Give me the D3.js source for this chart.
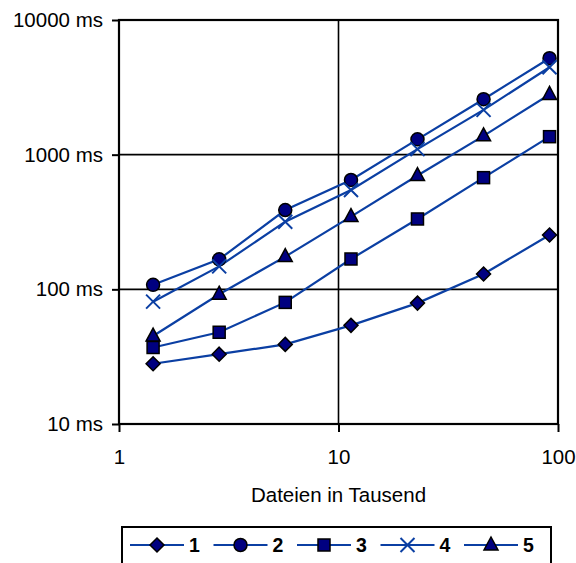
<!DOCTYPE html>
<html>
<head>
<meta charset="utf-8">
<script src="https://cdn.jsdelivr.net/npm/d3@7"></script>
<style>
  html, body { margin: 0; padding: 0; background: #fff; }
  svg { display: block; }
  text { font-family: "Liberation Sans", Arial, sans-serif; }
</style>
</head>
<body>
<svg id="chart" width="576" height="563"></svg>
<script>
// Number of files (thousands) at each measurement
const files = [1.43, 2.86, 5.72, 11.4, 22.9, 45.8, 91.5];

// Measured times in ms for each configuration
const series1 = [28, 33, 39, 54, 79, 130, 253];
const series2 = [108, 167, 388, 649, 1300, 2580, 5200];
const series3 = [37, 48, 80, 168, 333, 675, 1360];
const series4 = [81, 148, 318, 547, 1100, 2150, 4460];
const series5 = [45, 92, 175, 347, 700, 1380, 2800];

const seriesNames = ["1", "2", "3", "4", "5"];
const seriesMarkers = ["diamond", "circle", "square", "cross", "triangle"];

const xTicks = [1, 10, 100];
const yTicks = [10, 100, 1000, 10000];
const yTickLabels = ["10 ms", "100 ms", "1000 ms", "10000 ms"];
const xTitle = "Dateien in Tausend";

const allSeries = [series1, series2, series3, series4, series5].map((v, i) => ({
  name: seriesNames[i], marker: seriesMarkers[i], values: v
}));

const lineColor = "#0B3FA3";
const markerFill = "#000080";

const svg = d3.select("#chart");
const plot = { left: 119, right: 558, top: 20, bottom: 424 };

const x = d3.scaleLog().domain([1, 100]).range([plot.left, plot.right]);
const y = d3.scaleLog().domain([10, 10000]).range([plot.bottom, plot.top]);

// Gridlines at the decade marks
const grid = svg.append("g");
grid.selectAll("line.h").data(yTicks.slice(1, -1)).join("line")
  .attr("x1", plot.left).attr("x2", plot.right)
  .attr("y1", d => y(d)).attr("y2", d => y(d))
  .attr("stroke", "#000").attr("stroke-width", 1.6);
grid.selectAll("line.v").data(xTicks.slice(1, -1)).join("line")
  .attr("y1", plot.top).attr("y2", plot.bottom)
  .attr("x1", d => x(d)).attr("x2", d => x(d))
  .attr("stroke", "#000").attr("stroke-width", 1.6);

// Plot frame
svg.append("rect")
  .attr("x", plot.left).attr("y", plot.top)
  .attr("width", plot.right - plot.left).attr("height", plot.bottom - plot.top)
  .attr("fill", "none").attr("stroke", "#000").attr("stroke-width", 2.2);

// Axes
const yAxis = d3.axisLeft(y).tickValues(yTicks)
  .tickFormat((d, i) => yTickLabels[i]).tickSize(7).tickPadding(9);
const gy = svg.append("g").attr("transform", `translate(${plot.left},0)`).call(yAxis);
gy.select(".domain").remove();
gy.selectAll(".tick line").attr("stroke", "#000").attr("stroke-width", 2);
gy.selectAll(".tick text").attr("font-size", 20.5).attr("fill", "#000");

const xAxis = d3.axisBottom(x).tickValues(xTicks)
  .tickFormat(d3.format("d")).tickSize(8).tickPadding(17.5);
const gx = svg.append("g").attr("transform", `translate(0,${plot.bottom})`).call(xAxis);
gx.select(".domain").remove();
gx.selectAll(".tick line").attr("stroke", "#000").attr("stroke-width", 2);
gx.selectAll(".tick text").attr("font-size", 20.5).attr("fill", "#000");

svg.append("text")
  .attr("x", x(10)).attr("y", 501.5)
  .attr("text-anchor", "middle").attr("font-size", 20.5).attr("fill", "#000")
  .text(xTitle);

// Marker drawing
function drawMarker(g, type) {
  switch (type) {
    case "diamond":
      g.append("path").attr("d", "M0,-7L7,0L0,7L-7,0Z")
        .attr("fill", markerFill).attr("stroke", "#000").attr("stroke-width", 1.5);
      break;
    case "circle":
      g.append("circle").attr("r", 6.5)
        .attr("fill", markerFill).attr("stroke", "#000").attr("stroke-width", 1.5);
      break;
    case "square":
      g.append("rect").attr("x", -6).attr("y", -6).attr("width", 12).attr("height", 12)
        .attr("fill", markerFill).attr("stroke", "#000").attr("stroke-width", 1.5);
      break;
    case "cross":
      g.append("path").attr("d", "M-7,-7L7,7M-7,7L7,-7")
        .attr("fill", "none").attr("stroke", lineColor).attr("stroke-width", 2);
      break;
    case "triangle":
      g.append("path").attr("d", "M0,-8L7,5L-7,5Z")
        .attr("fill", markerFill).attr("stroke", "#000").attr("stroke-width", 1.5);
      break;
  }
}

const line = d3.line().x(d => x(d[0])).y(d => y(d[1]));

allSeries.forEach(s => {
  const pts = files.map((f, i) => [f, s.values[i]]);
  svg.append("path").datum(pts)
    .attr("d", line).attr("fill", "none")
    .attr("stroke", lineColor).attr("stroke-width", 2.2);
});
allSeries.forEach(s => {
  files.forEach((f, i) => {
    const g = svg.append("g").attr("transform", `translate(${x(f)},${y(s.values[i])})`);
    drawMarker(g, s.marker);
  });
});

// Legend
const legend = svg.append("g");
legend.append("rect")
  .attr("x", 122).attr("y", 527).attr("width", 429).attr("height", 44)
  .attr("fill", "#fff").attr("stroke", "#000").attr("stroke-width", 2);
allSeries.forEach((s, i) => {
  const x0 = 130 + i * 83.5;
  const cy = 545;
  legend.append("line").attr("x1", x0).attr("x2", x0 + 54)
    .attr("y1", cy).attr("y2", cy).attr("stroke", lineColor).attr("stroke-width", 2);
  drawMarker(legend.append("g").attr("transform", `translate(${x0 + 27},${cy})`), s.marker);
  legend.append("text").attr("x", x0 + 59).attr("y", cy + 7)
    .attr("font-size", 19.5).attr("font-weight", "bold").attr("fill", "#000")
    .text(s.name);
});
</script>
</body>
</html>
